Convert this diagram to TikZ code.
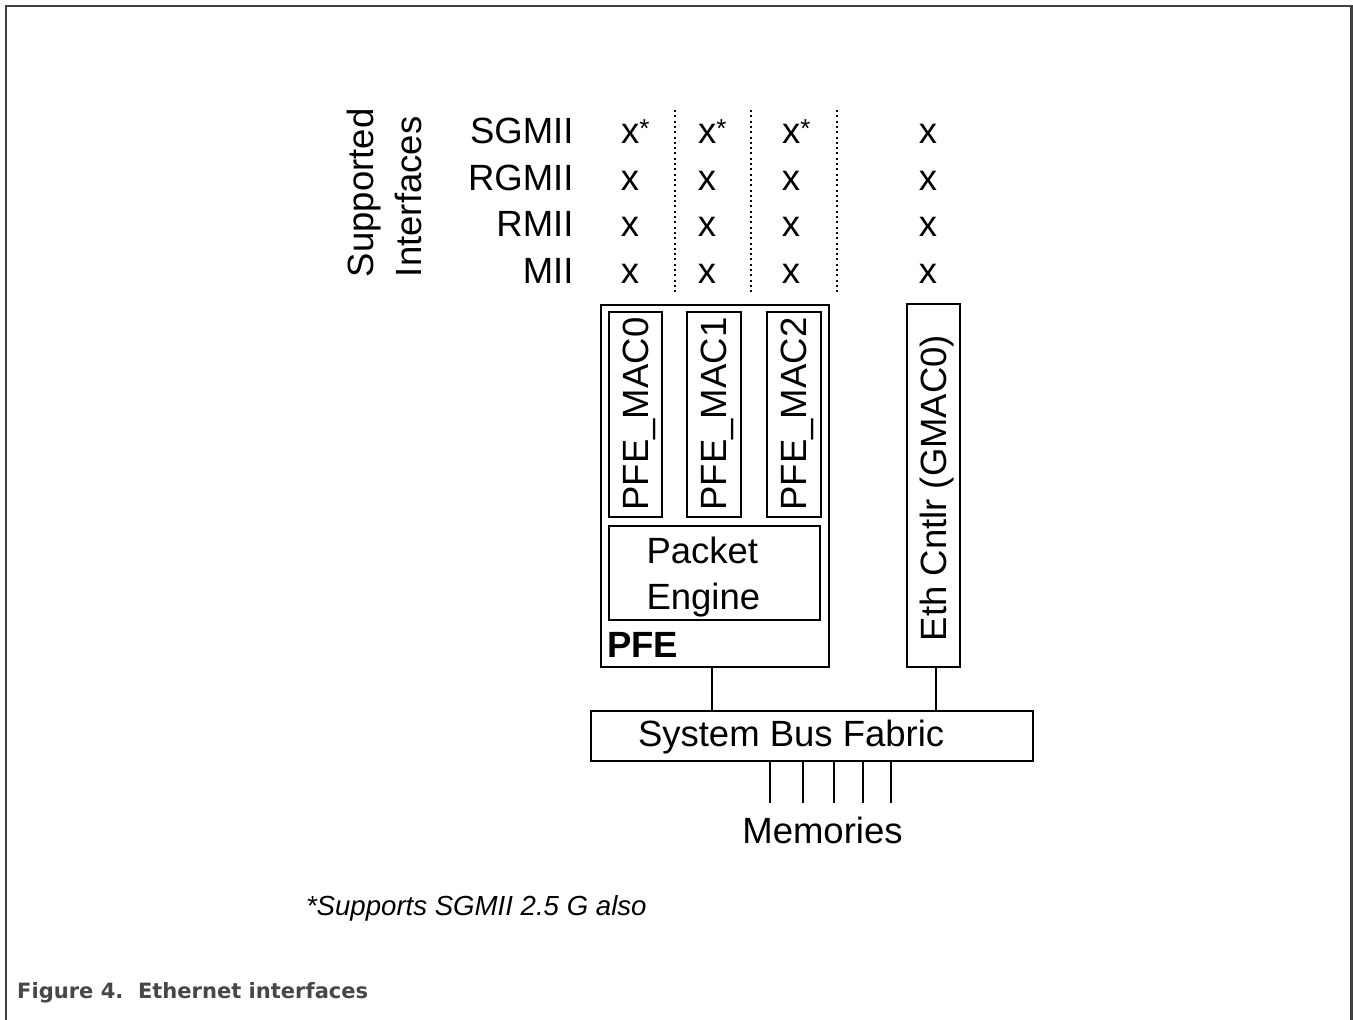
\documentclass[tikz,border=0pt]{standalone}
\usepackage{fontspec}
\setmainfont{Liberation Sans}
\newfontfamily\capfont{DejaVu Sans}
\usepackage{graphicx}
\definecolor{framegray}{HTML}{404040}
\definecolor{capgray}{HTML}{474747}
\newcommand{\xstar}{x\raisebox{6pt}{\fontsize{26}{26}\selectfont *}}
\begin{document}
\begin{tikzpicture}[x=1pt,y=-1pt,
  boxnode/.style={draw,line width=2pt,inner sep=0pt},
  txt/.style={inner sep=0pt,outer sep=0pt,font=\fontsize{36.5}{40}\selectfont},
  vtxt/.style={txt,rotate=90},
  dotline/.style={line width=2pt,dash pattern=on 2pt off 3.3pt},
  wire/.style={line width=2pt}]
\useasboundingbox (0,0) rectangle (1353,1020);
% frame
\draw[framegray,line width=2.5pt] (6,1020) -- (6,6) -- (1351.5,6) -- (1351.5,1020);
% header
\node[vtxt,anchor=base west] (sup) at (373.3,277) {Supported};
\node[vtxt,anchor=base west] (intf) at (421.7,277) {Interfaces};
\node[txt,anchor=base east] (lsg) at (573.5,143.3) {SGMII};
\node[txt,anchor=base east] (lrg) at (573.5,190) {RGMII};
\node[txt,anchor=base east] (lrm) at (573.5,236.7) {RMII};
\node[txt,anchor=base east] (lmi) at (573.5,283.3) {MII};
% x marks
\node[txt,anchor=base west] (x11) at (621,143.3) {\xstar};
\node[txt,anchor=base west] (x12) at (698,143.3) {\xstar};
\node[txt,anchor=base west] (x13) at (782,143.3) {\xstar};
\node[txt,anchor=base] (x14) at (928,143.3) {x};
\foreach \r/\yy in {2/190,3/236.7,4/283.3}{
  \node[txt,anchor=base] (x\r1) at (630,\yy) {x};
  \node[txt,anchor=base] (x\r2) at (707,\yy) {x};
  \node[txt,anchor=base] (x\r3) at (791,\yy) {x};
  \node[txt,anchor=base] (x\r4) at (928,\yy) {x};
}
% dotted separators
\draw[dotline] (675,110) -- (675,292);
\draw[dotline] (750.7,110) -- (750.7,292);
\draw[dotline] (836.7,110) -- (836.7,292);
% PFE block
\node[boxnode,minimum width=228pt,minimum height=362pt] (pfe) at (715,486) {};
\node[boxnode,minimum width=53.5pt,minimum height=205pt] (mac0) at (635.4,414.2) {};
\node[boxnode,minimum width=54pt,minimum height=205pt] (mac1) at (713.7,414.2) {};
\node[boxnode,minimum width=54pt,minimum height=205pt] (mac2) at (793.7,414.2) {};
\node[vtxt,anchor=base] (tmac0) at (648.3,414) {PFE\_MAC0};
\node[vtxt,anchor=base] (tmac1) at (726.7,414) {PFE\_MAC1};
\node[vtxt,anchor=base] (tmac2) at (806.7,414) {PFE\_MAC2};
\node[boxnode,minimum width=210.7pt,minimum height=94.3pt] (pe) at (714.7,572.8) {};
\node[txt,anchor=base west] (tpk) at (646.5,563) {Packet};
\node[txt,anchor=base west] (ten) at (646.5,609.5) {Engine};
\node[txt,anchor=base west,font=\fontsize{36.5}{40}\selectfont\bfseries] (tpfe) at (607,657) {PFE};
% Eth controller
\node[boxnode,minimum width=53.3pt,minimum height=363.3pt] (eth) at (933.3,485.7) {};
\node[vtxt,anchor=base] (teth) at (946.7,488) {Eth Cntlr (GMAC0)};
% bus
\node[boxnode,minimum width=442pt,minimum height=50.3pt] (bus) at (811.7,735.8) {};
\node[txt,anchor=base west] (tbus) at (638,746) {System Bus Fabric};
% connections
\draw[wire] (pfe.south) ++(-2.7,0) coordinate (p1) -- (p1 |- bus.north);
\draw[wire] (eth.south) ++(2.7,0) coordinate (e1) -- (e1 |- bus.north);
% memories
\node[txt,anchor=base] (mem) at (822.5,843.5) {Memories};
\foreach \i/\xx in {1/770,2/803.3,3/834,4/863.3,5/891}{
  \coordinate (m\i) at (\xx,803.3);
  \draw[wire] (m\i |- bus.south) -- (m\i);
}
% footnote
\node[txt,anchor=base west,font=\fontsize{27.6}{32}\selectfont\itshape] (fn) at (306,915) {*Supports SGMII 2.5 G also};
% caption
\node[inner sep=0pt,anchor=base west,text=capgray] (cap) at (17,998) {\resizebox{351pt}{16pt}{\capfont\bfseries Figure 4.\ \ Ethernet interfaces}};
\end{tikzpicture}
\end{document}
